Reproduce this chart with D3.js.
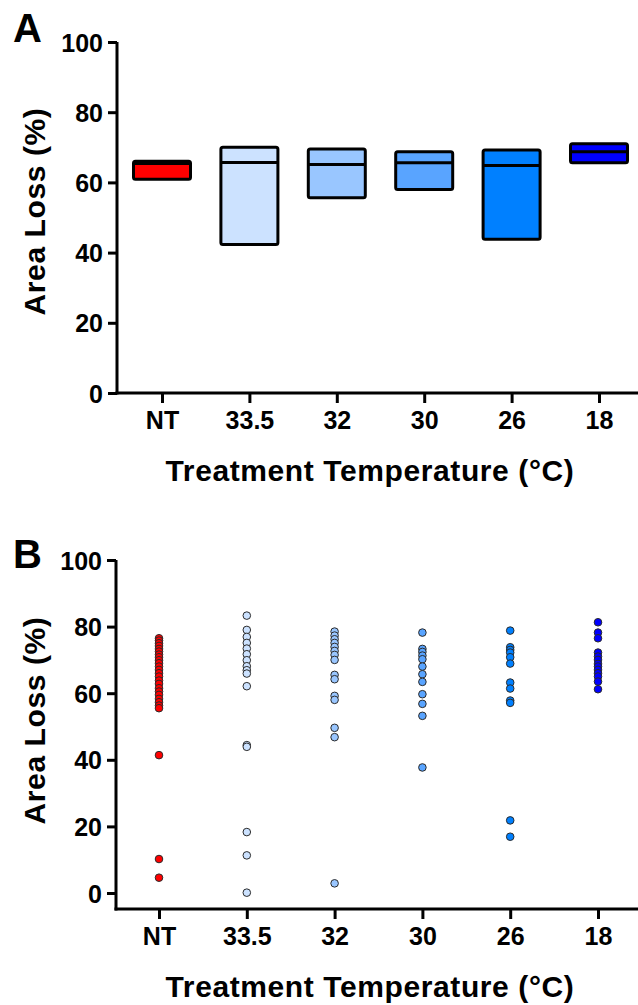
<!DOCTYPE html>
<html>
<head>
<meta charset="utf-8">
<script src="https://cdn.jsdelivr.net/npm/d3@7"></script>
<style>
  html, body { margin: 0; padding: 0; background: #fff; }
  svg text { font-family: "Liberation Sans", Arial, sans-serif; font-weight: bold; fill: #000; }
</style>
</head>
<body>
<svg id="chart" width="638" height="1005"></svg>
<script>
// ---- data ----
const categories = ["NT", "33.5", "32", "30", "26", "18"];
const colors = ["#ff0000", "#cce2ff", "#99c6ff", "#59a4ff", "#0080ff", "#0000ff"];
const yTicks = [0, 20, 40, 60, 80, 100];

// Panel A: floating bars (min, line, max)
const boxLow    = [60.9, 42.3, 55.6, 58.0, 43.8, 65.6];
const boxMedian = [65.4, 65.7, 65.1, 65.6, 64.8, 68.7];
const boxHigh   = [66.0, 70.0, 69.5, 68.7, 69.2, 71.0];

// Panel B: individual values
const ptsNT   = [76.5, 75.8, 75.0, 74.2, 73.3, 72.5, 71.6, 70.8, 69.9, 69.0, 68.0, 67.0, 66.0, 65.0, 63.8, 62.8, 61.5, 60.5, 59.5, 58.3, 57.3, 56.3, 55.5, 41.4, 10.2, 4.6];
const pts335  = [83.3, 79.0, 76.9, 75.1, 73.4, 71.7, 69.9, 68.1, 66.9, 65.9, 62.1, 44.4, 43.9, 18.3, 11.3, 0.1];
const pts32   = [78.5, 77.3, 76.2, 75.1, 73.9, 72.7, 71.5, 70.0, 65.5, 64.2, 59.2, 58.0, 49.6, 46.8, 2.9];
const pts30   = [78.2, 73.3, 72.4, 71.3, 70.2, 68.0, 65.7, 63.4, 59.7, 56.8, 53.2, 37.7];
const pts26   = [78.8, 73.8, 73.0, 72.2, 70.8, 68.9, 63.2, 61.4, 57.8, 57.1, 21.8, 16.9];
const pts18   = [81.3, 78.2, 76.5, 72.2, 71.0, 70.0, 68.8, 68.0, 67.0, 66.0, 65.0, 63.5, 61.2];
const points = [ptsNT, pts335, pts32, pts30, pts26, pts18];

const svg = d3.select("#chart");

function drawAxes(g, x, y, axisX, xAxisY, yTop, letter, letterY) {
  // y axis
  const ya = g.append("g").attr("transform", `translate(${axisX},0)`)
    .call(d3.axisLeft(y).tickValues(yTicks).tickSize(9).tickPadding(5).tickSizeOuter(0));
  ya.select(".domain").remove();
  ya.selectAll(".tick line").attr("stroke", "#000").attr("stroke-width", 3);
  ya.selectAll(".tick text").style("font-size", "25px").attr("font-family", null).attr("dy", "0.36em");
  g.append("line").attr("x1", axisX).attr("x2", axisX).attr("y1", yTop).attr("y2", xAxisY + 1.5)
    .attr("stroke", "#000").attr("stroke-width", 3);
  // x axis
  const xa = g.append("g").attr("transform", `translate(0,${xAxisY})`)
    .call(d3.axisBottom(x).tickSize(10).tickPadding(8).tickSizeOuter(0));
  xa.select(".domain").remove();
  xa.selectAll(".tick line").attr("stroke", "#000").attr("stroke-width", 3);
  xa.selectAll(".tick text").style("font-size", "25px").attr("font-family", null);
  g.append("line").attr("x1", axisX - 1.5).attr("x2", 638).attr("y1", xAxisY).attr("y2", xAxisY)
    .attr("stroke", "#000").attr("stroke-width", 3);
  // titles
  g.append("text").attr("x", 370).attr("y", xAxisY + 88).attr("text-anchor", "middle")
    .style("font-size", "30px").style("letter-spacing", "0.6px").text("Treatment Temperature (°C)");
  const ym = (y(0) + y(100)) / 2 - 6;
  g.append("text").attr("transform", `translate(45,${ym}) rotate(-90)`).attr("text-anchor", "middle")
    .style("font-size", "30px").style("letter-spacing", "0.6px").text("Area Loss (%)");
  g.append("text").attr("x", 13).attr("y", letterY).style("font-size", "40px").text(letter);
}

// ---- Panel A ----
const gA = svg.append("g");
const xA = d3.scalePoint().domain(categories).range([162, 599]);
const yA = d3.scaleLinear().domain([0, 100]).range([393, 42]);
drawAxes(gA, xA, yA, 117, 393, 42, "A", 42);
const bw = 57;
categories.forEach((c, i) => {
  gA.append("rect")
    .attr("x", xA(c) - bw / 2).attr("width", bw)
    .attr("y", yA(boxHigh[i])).attr("height", yA(boxLow[i]) - yA(boxHigh[i]))
    .attr("rx", 2).attr("fill", colors[i]).attr("stroke", "#000").attr("stroke-width", 3);
  gA.append("line")
    .attr("x1", xA(c) - bw / 2).attr("x2", xA(c) + bw / 2)
    .attr("y1", yA(boxMedian[i])).attr("y2", yA(boxMedian[i]))
    .attr("stroke", "#000").attr("stroke-width", 3);
});

// ---- Panel B ----
const gB = svg.append("g");
const xB = d3.scalePoint().domain(categories).range([159, 598]);
const yB = d3.scaleLinear().domain([0, 100]).range([893, 560]);
drawAxes(gB, xB, yB, 116, 909, 560, "B", 568);
categories.forEach((c, i) => {
  gB.selectAll(null).data(points[i]).enter().append("circle")
    .attr("cx", xB(c)).attr("cy", d => yB(d)).attr("r", 3.8)
    .attr("fill", colors[i]).attr("stroke", "#2a2a2a").attr("stroke-width", 1);
});
</script>
</body>
</html>
